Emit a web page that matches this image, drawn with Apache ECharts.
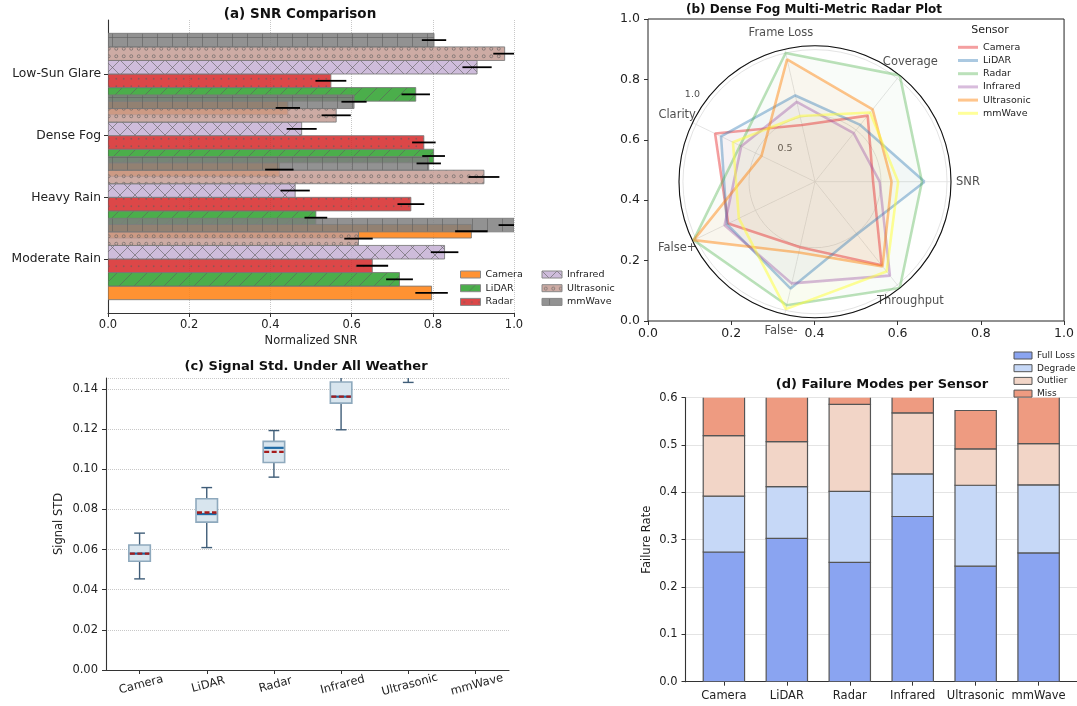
<!DOCTYPE html>
<html><head><meta charset="utf-8">
<script src="https://cdn.jsdelivr.net/npm/echarts@6/dist/echarts.min.js"></script>
<style>html,body{margin:0;padding:0;background:#fff}#c{width:1077px;height:706px}</style>
</head><body><div id="c"></div>
<script>
// ---------- DATA ----------
const weatherCats = ['Moderate Rain', 'Heavy Rain', 'Dense Fog', 'Low-Sun Glare'];
const sensors = ['Camera', 'LiDAR', 'Radar', 'Infrared', 'Ultrasonic', 'mmWave'];
// (a) normalized SNR, ordered as weatherCats
const snrCamera     = [0.797, 0.895, 0.422, 0.443];
const snrLidar      = [0.718, 0.512, 0.802, 0.758];
const snrRadar      = [0.651, 0.746, 0.778, 0.549];
const snrInfrared   = [0.829, 0.461, 0.477, 0.909];
const snrUltrasonic = [0.617, 0.926, 0.562, 0.977];
const snrMmwave     = [1.000, 0.790, 0.606, 0.803];
const errCamera     = [0.040, 0.040, 0.035, 0.030];
const errLidar      = [0.033, 0.028, 0.028, 0.035];
const errRadar      = [0.039, 0.033, 0.029, 0.038];
const errInfrared   = [0.034, 0.036, 0.037, 0.036];
const errUltrasonic = [0.035, 0.038, 0.036, 0.028];
const errMmwave     = [0.038, 0.030, 0.031, 0.030];
// (b) dense fog radar metrics
const radarMetrics = ['SNR', 'Coverage', 'Frame Loss', 'Clarity', 'False+', 'False-', 'Throughput'];
const fogCamera     = [0.44, 0.64, 0.44, 0.84, 0.73, 0.51, 0.81];
const fogLidar      = [0.83, 0.55, 0.67, 0.79, 0.74, 0.83, 0.51];
const fogRadar      = [0.81, 1.03, 1.00, 0.63, 1.02, 0.96, 1.03];
const fogInfrared   = [0.49, 0.47, 0.62, 0.62, 0.76, 0.79, 0.91];
const fogUltrasonic = [0.58, 0.70, 0.95, 0.45, 1.02, 0.55, 0.82];
const fogMmwave     = [0.63, 0.67, 0.51, 0.69, 0.64, 0.99, 0.87];
const radialTickLabels = ['0.5', '1.0'];
// (c) signal std box stats
const boxLow    = [0.0454, 0.0610, 0.0961, 0.1197, 0.1433, 0.1650];
const boxQ1     = [0.0542, 0.0737, 0.1034, 0.1330, 0.1520, 0.1720];
const boxMedian = [0.0580, 0.0777, 0.1107, 0.1362, 0.1570, 0.1780];
const boxQ3     = [0.0623, 0.0853, 0.1139, 0.1435, 0.1630, 0.1840];
const boxHigh   = [0.0682, 0.0909, 0.1193, 0.1530, 0.1720, 0.1920];
const boxMean   = [0.0580, 0.0785, 0.1087, 0.1362, 0.1570, 0.1780];
// (d) failure modes
const failModes    = ['Full Loss', 'Degrade', 'Outlier', 'Miss'];
const failFullLoss = [0.274, 0.303, 0.252, 0.349, 0.244, 0.272];
const failDegrade  = [0.118, 0.109, 0.150, 0.090, 0.171, 0.144];
const failOutlier  = [0.128, 0.095, 0.184, 0.129, 0.077, 0.087];
const failMiss     = [0.120, 0.130, 0.070, 0.100, 0.081, 0.120];

// ---------- STYLE ----------
const FONT = 'DejaVu Sans';
const barColors = ['rgba(255,127,14,0.85)', 'rgba(44,160,44,0.85)', 'rgba(214,39,40,0.85)',
  'rgba(197,176,213,0.85)', 'rgba(196,156,148,0.85)', 'rgba(127,127,127,0.85)'];
const hatches = ['', '/', '.', 'x', 'o', '+'];
const fogLine = ['rgba(228,26,28,0.42)', 'rgba(55,126,184,0.42)', 'rgba(77,175,74,0.38)',
  'rgba(152,78,163,0.38)', 'rgba(255,127,0,0.45)', 'rgba(255,255,51,0.5)'];
const fogFill = ['rgba(228,26,28,0.05)', 'rgba(55,126,184,0.05)', 'rgba(77,175,74,0.05)',
  'rgba(152,78,163,0.05)', 'rgba(255,127,0,0.06)', 'rgba(255,255,51,0.06)'];
const failColors = ['#8aa4f1', '#c6d8f7', '#f2d5c7', '#ee9b81'];

function makePattern(base, kind) {
  const s = 15;
  const cv = document.createElement('canvas');
  cv.width = s; cv.height = s;
  const g = cv.getContext('2d');
  g.fillStyle = base; g.fillRect(0, 0, s, s);
  g.strokeStyle = 'rgba(95,95,95,0.6)';
  g.fillStyle = 'rgba(95,95,95,0.6)';
  g.lineWidth = 1;
  const line = (a, b, c, d) => { g.beginPath(); g.moveTo(a, b); g.lineTo(c, d); g.stroke(); };
  if (kind === '/' || kind === 'x') {
    line(-1, s + 1, s + 1, -1); line(-2, 2, 2, -2); line(s - 2, s + 2, s + 2, s - 2);
  }
  if (kind === 'x') {
    line(-1, -1, s + 1, s + 1); line(-2, s - 2, 2, s + 2); line(s - 2, -2, s + 2, 2);
  }
  if (kind === '+') { line(s / 2, 0, s / 2, s); line(0, s / 2, s, s / 2); }
  const pts = [[s / 4, s / 4], [3 * s / 4, s / 4], [s / 4, 3 * s / 4], [3 * s / 4, 3 * s / 4]];
  if (kind === '.') pts.forEach(p => { g.beginPath(); g.arc(p[0], p[1], 0.9, 0, Math.PI * 2); g.fill(); });
  if (kind === 'o') pts.forEach(p => { g.beginPath(); g.arc(p[0], p[1], 1.5, 0, Math.PI * 2); g.stroke(); });
  return { image: cv, repeat: 'repeat' };
}
const patterns = barColors.map((c, i) => makePattern(c, hatches[i]));

const snrVals = [snrCamera, snrLidar, snrRadar, snrInfrared, snrUltrasonic, snrMmwave];
const snrErrs = [errCamera, errLidar, errRadar, errInfrared, errUltrasonic, errMmwave];
const fogVals = [fogCamera, fogLidar, fogRadar, fogInfrared, fogUltrasonic, fogMmwave];
const failVals = [failFullLoss, failDegrade, failOutlier, failMiss];

const barH = 0.22;
const barOffsets = sensors.map((s, i) => (i - (sensors.length - 1) / 2) * barH);
const catIdx = weatherCats.map((c, i) => i);
const sensIdx = sensors.map((s, i) => i);
const yMinA = -(barH * sensors.length / 2) - 0.216;
const yMaxA = (weatherCats.length - 1) + barH * sensors.length / 2 + 0.216;
const failBarW = 0.657;

// ---------- SERIES ----------
const series = [];
sensors.forEach((s, si) => {
  series.push({
    type: 'custom', name: s, xAxisIndex: 0, yAxisIndex: 0, clip: true,
    encode: { x: 0, y: 1 }, itemStyle: { color: patterns[si] },
    data: weatherCats.map((c, ci) => [snrVals[si][ci], ci]),
    renderItem: (params, api) => {
      const yc = api.value(1) + barOffsets[si];
      const p0 = api.coord([0, yc + barH / 2]);
      const p1 = api.coord([api.value(0), yc - barH / 2]);
      return { type: 'rect', shape: { x: p0[0], y: p0[1], width: p1[0] - p0[0], height: p1[1] - p0[1] },
        style: { fill: patterns[si], stroke: 'rgba(120,120,120,0.85)', lineWidth: 1 } };
    }
  });
});
const errData = [];
sensors.forEach((s, si) => weatherCats.forEach((c, ci) =>
  errData.push([snrVals[si][ci] - snrErrs[si][ci], snrVals[si][ci] + snrErrs[si][ci], ci + barOffsets[si]])));
series.push({
  type: 'custom', name: 'err', xAxisIndex: 0, yAxisIndex: 0, clip: true, z: 5,
  encode: { x: [0, 1], y: 2 }, data: errData,
  renderItem: (params, api) => {
    const a = api.coord([api.value(0), api.value(2)]);
    const b = api.coord([api.value(1), api.value(2)]);
    return { type: 'line', shape: { x1: a[0], y1: a[1], x2: b[0], y2: b[1] }, style: { stroke: '#000', lineWidth: 1.8 } };
  }
});
// (b) radar lines on polar
const nM = radarMetrics.length;
sensors.forEach((s, si) => {
  const d = fogVals[si].map((v, i) => [v, i]);
  d.push([fogVals[si][0], nM]);
  series.push({
    type: 'line', coordinateSystem: 'polar', polarIndex: 0, name: 'fog:' + s,
    data: d, symbol: 'none', showSymbol: false, smooth: false, clip: false,
    lineStyle: { color: fogLine[si], width: 2.6 }, itemStyle: { color: fogLine[si] },
    areaStyle: { color: fogFill[si] }, z: 3
  });
});
series.push({
  type: 'scatter', coordinateSystem: 'polar', polarIndex: 1, name: 'metricLabels', silent: true,
  symbolSize: 1, itemStyle: { color: 'transparent' },
  data: radarMetrics.map((m, i) => [1, i, m]),
  label: { show: true, position: 'inside', formatter: p => p.data[2], fontSize: 11.5, color: '#222', fontFamily: FONT }
});
series.push({
  type: 'scatter', coordinateSystem: 'polar', polarIndex: 1, name: 'rLabels', silent: true,
  symbolSize: 1, itemStyle: { color: 'transparent' },
  data: [[0.293, 2.568, radialTickLabels[0]], [0.984, 2.81, radialTickLabels[1]]],
  label: { show: true, position: 'inside', formatter: p => p.data[2], fontSize: 9.5, color: '#222', fontFamily: FONT }
});
// (c) box plot
series.push({
  type: 'custom', name: 'box', xAxisIndex: 2, yAxisIndex: 2, clip: true,
  encode: { x: 0, y: [1, 2, 3, 4, 5, 6] },
  data: sensors.map((s, i) => [i, boxLow[i], boxQ1[i], boxMedian[i], boxQ3[i], boxHigh[i], boxMean[i]]),
  renderItem: (params, api) => {
    const i = api.value(0);
    const x = api.coord([i, 0])[0];
    const band = api.size([1, 0])[0];
    const bw = band * 0.32, cw = bw / 2;
    const Y = k => api.coord([i, api.value(k)])[1];
    const yL = Y(1), yQ1 = Y(2), yM = Y(3), yQ3 = Y(4), yH = Y(5), yMean = Y(6);
    const wk = { stroke: '#3f5d78', lineWidth: 1.4 };
    return { type: 'group', children: [
      { type: 'line', shape: { x1: x, y1: yL, x2: x, y2: yQ1 }, style: wk },
      { type: 'line', shape: { x1: x, y1: yQ3, x2: x, y2: yH }, style: wk },
      { type: 'line', shape: { x1: x - cw / 2, y1: yL, x2: x + cw / 2, y2: yL }, style: wk },
      { type: 'line', shape: { x1: x - cw / 2, y1: yH, x2: x + cw / 2, y2: yH }, style: wk },
      { type: 'rect', shape: { x: x - bw / 2, y: yQ3, width: bw, height: yQ1 - yQ3 },
        style: { fill: '#d8e5ee', stroke: '#8ea9bd', lineWidth: 1.6 } },
      { type: 'line', shape: { x1: x - bw / 2 + 1, y1: yM, x2: x + bw / 2 - 1, y2: yM }, style: { stroke: '#1f6aa5', lineWidth: 2.2 } },
      { type: 'line', shape: { x1: x - bw / 2 + 1, y1: yMean, x2: x + bw / 2 - 1, y2: yMean },
        style: { stroke: '#a51c1c', lineWidth: 2.4, lineDash: [5, 2.5] } }
    ] };
  }
});
// (d) stacked bars (cumulative bases computed from the arrays)
const failBase = sensors.map(() => 0);
failModes.forEach((m, mi) => {
  const d = sensors.map((s, i) => { const b = failBase[i]; failBase[i] += failVals[mi][i]; return [i, b, failBase[i]]; });
  series.push({
    type: 'custom', name: m, xAxisIndex: 3, yAxisIndex: 3, clip: true,
    encode: { x: 0, y: [1, 2] }, data: d,
    itemStyle: { color: failColors[mi], borderColor: '#555', borderWidth: 1.2 },
    renderItem: (params, api) => {
      const i = api.value(0);
      const p0 = api.coord([i - failBarW / 2, api.value(2)]);
      const p1 = api.coord([i + failBarW / 2, api.value(1)]);
      return { type: 'rect', shape: { x: p0[0], y: p0[1], width: p1[0] - p0[0], height: p1[1] - p0[1] },
        style: { fill: failColors[mi], stroke: '#555', lineWidth: 1.2 } };
    }
  });
});

// ---------- AXES ----------
const tickLbl = { color: '#222', fontFamily: FONT };
const spine = { show: true, onZero: false, lineStyle: { color: '#333', width: 1.1 } };
const tick = { show: true, length: 4, lineStyle: { color: '#333' } };
const dotted = { show: true, lineStyle: { type: 'dotted', color: '#c8c8c8', width: 1 } };
const noLine = { show: false, onZero: false };

const option = {
  animation: false,
  textStyle: { fontFamily: FONT },
  grid: [
    { left: 108, top: 20, width: 406, height: 293 },
    { left: 648, top: 19, width: 420, height: 302, show: true, borderColor: '#222', borderWidth: 1 },
    { left: 106, top: 378, width: 403, height: 292 },
    { left: 685.5, top: 397.7, width: 395, height: 284 }
  ],
  xAxis: [
    { gridIndex: 0, type: 'value', min: 0, max: 1, interval: 0.2,
      axisLine: spine, axisTick: tick, splitLine: dotted,
      axisLabel: Object.assign({ fontSize: 11.5, margin: 6, formatter: v => v.toFixed(1) }, tickLbl),
      name: 'Normalized SNR', nameLocation: 'middle', nameGap: 22, nameTextStyle: { fontSize: 11.5, color: '#222' } },
    { gridIndex: 1, type: 'value', min: 0, max: 1, interval: 0.2,
      axisLine: noLine, axisTick: tick, splitLine: { show: false },
      axisLabel: Object.assign({ fontSize: 12.5, margin: 6, formatter: v => v.toFixed(1) }, tickLbl) },
    { gridIndex: 2, type: 'category', data: sensors, boundaryGap: true,
      axisLine: spine, axisTick: Object.assign({ alignWithLabel: true }, tick), splitLine: { show: false },
      axisLabel: Object.assign({ fontSize: 11.5, margin: 9, rotate: 15, align: 'center', verticalAlign: 'top', interval: 0 }, tickLbl) },
    { gridIndex: 3, type: 'value', min: -0.61, max: 5.61,
      axisLine: spine, axisTick: Object.assign({ customValues: sensIdx }, tick), splitLine: { show: false },
      axisLabel: Object.assign({ fontSize: 11.5, margin: 8, customValues: sensIdx, formatter: v => sensors[Math.round(v)] }, tickLbl) }
  ],
  yAxis: [
    { gridIndex: 0, type: 'value', min: yMinA, max: yMaxA,
      axisLine: spine, axisTick: Object.assign({ customValues: catIdx }, tick), splitLine: { show: false },
      axisLabel: Object.assign({ fontSize: 12.3, margin: 7, customValues: catIdx, formatter: v => weatherCats[Math.round(v)] }, tickLbl) },
    { gridIndex: 1, type: 'value', min: 0, max: 1, interval: 0.2,
      axisLine: noLine, axisTick: tick, splitLine: { show: false },
      axisLabel: Object.assign({ fontSize: 12.5, margin: 8, formatter: v => v.toFixed(1) }, tickLbl) },
    { gridIndex: 2, type: 'value', min: 0, max: 0.1455, interval: 0.02,
      axisLine: spine, axisTick: tick, splitLine: dotted,
      axisLabel: Object.assign({ fontSize: 11.5, margin: 8, formatter: v => v.toFixed(2) }, tickLbl),
      name: 'Signal STD', nameLocation: 'middle', nameGap: 41, nameRotate: 90, nameTextStyle: { fontSize: 11.5, color: '#222' } },
    { gridIndex: 3, type: 'value', min: 0, max: 0.6, interval: 0.1,
      axisLine: spine, axisTick: tick, splitLine: dotted,
      axisLabel: Object.assign({ fontSize: 11.5, margin: 8, formatter: v => v.toFixed(1) }, tickLbl),
      name: 'Failure Rate', nameLocation: 'middle', nameGap: 32, nameRotate: 90, nameTextStyle: { fontSize: 11.5, color: '#222' } }
  ],
  polar: [
    { center: [815, 181.7], radius: 136 },
    { center: [815, 181.7], radius: 153 }
  ],
  angleAxis: [
    { polarIndex: 0, type: 'value', min: 0, max: nM, interval: 1, startAngle: 0, clockwise: false,
      axisLine: { show: true, lineStyle: { color: '#111', width: 1.1 } }, axisTick: { show: false },
      axisLabel: { show: false }, splitLine: { show: true, lineStyle: { color: '#dedede', width: 0.8 } } },
    { polarIndex: 1, type: 'value', min: 0, max: nM, interval: 1, startAngle: 0, clockwise: false,
      axisLine: { show: false }, axisTick: { show: false }, axisLabel: { show: false }, splitLine: { show: false } }
  ],
  radiusAxis: [
    { polarIndex: 0, type: 'value', min: 0, max: 1.03, interval: 0.5,
      axisLine: { show: false }, axisTick: { show: false }, axisLabel: { show: false },
      splitLine: { show: true, lineStyle: { color: '#dcdcdc', width: 0.8 } } },
    { polarIndex: 1, type: 'value', min: 0, max: 1,
      axisLine: { show: false }, axisTick: { show: false }, axisLabel: { show: false }, splitLine: { show: false } }
  ],
  legend: [
    { orient: 'vertical', left: 455, top: 263.5, itemWidth: 20, itemHeight: 7, itemGap: 1.7, icon: 'rect',
      textStyle: { fontSize: 9.5, lineHeight: 12, color: '#222' }, selectedMode: false,
      data: sensors.slice(0, 3).map((s, i) => ({ name: s, itemStyle: { color: patterns[i], borderColor: '#888', borderWidth: 1 } })) },
    { orient: 'vertical', left: 536.5, top: 263.5, itemWidth: 20, itemHeight: 7, itemGap: 1.7, icon: 'rect',
      textStyle: { fontSize: 9.5, lineHeight: 12, color: '#222' }, selectedMode: false,
      data: sensors.slice(3).map((s, i) => ({ name: s, itemStyle: { color: patterns[i + 3], borderColor: '#888', borderWidth: 1 } })) },
    { orient: 'vertical', left: 953, top: 36.3, itemWidth: 20, itemHeight: 3, itemGap: 1.2, icon: 'rect',
      textStyle: { fontSize: 9.5, lineHeight: 12, color: '#222' }, selectedMode: false,
      formatter: n => n.replace('fog:', ''),
      data: sensors.map((s, i) => ({ name: 'fog:' + s, itemStyle: { color: fogLine[i] } })) },
    { orient: 'vertical', left: 1008.5, top: 345, itemWidth: 18, itemHeight: 7, itemGap: 1.7, icon: 'rect',
      textStyle: { fontSize: 9, lineHeight: 11, color: '#222' }, selectedMode: false,
      data: failModes.map((m, i) => ({ name: m, itemStyle: { color: failColors[i], borderColor: '#555', borderWidth: 1 } })) }
  ],
  graphic: [
    { type: 'text', x: 300, y: 14, style: { text: '(a) SNR Comparison', font: 'bold 13.5px "DejaVu Sans"', fill: '#111', textAlign: 'center', textVerticalAlign: 'middle', align: 'center', verticalAlign: 'middle' } },
    { type: 'text', x: 814, y: 10, style: { text: '(b) Dense Fog Multi-Metric Radar Plot', font: 'bold 12px "DejaVu Sans"', fill: '#111', textAlign: 'center', textVerticalAlign: 'middle', align: 'center', verticalAlign: 'middle' } },
    { type: 'text', x: 306, y: 367, style: { text: '(c) Signal Std. Under All Weather', font: 'bold 13px "DejaVu Sans"', fill: '#111', textAlign: 'center', textVerticalAlign: 'middle', align: 'center', verticalAlign: 'middle' } },
    { type: 'text', x: 882, y: 385, style: { text: '(d) Failure Modes per Sensor', font: 'bold 13px "DejaVu Sans"', fill: '#111', textAlign: 'center', textVerticalAlign: 'middle', align: 'center', verticalAlign: 'middle' } },
    { type: 'text', x: 990, y: 30, style: { text: 'Sensor', font: '11px "DejaVu Sans"', fill: '#222', textAlign: 'center', textVerticalAlign: 'middle', align: 'center', verticalAlign: 'middle' } }
  ],
  series: series
};
const chart = echarts.init(document.getElementById('c'), null, { renderer: 'canvas', width: 1077, height: 706 });
chart.setOption(option);
</script>
</body></html>
